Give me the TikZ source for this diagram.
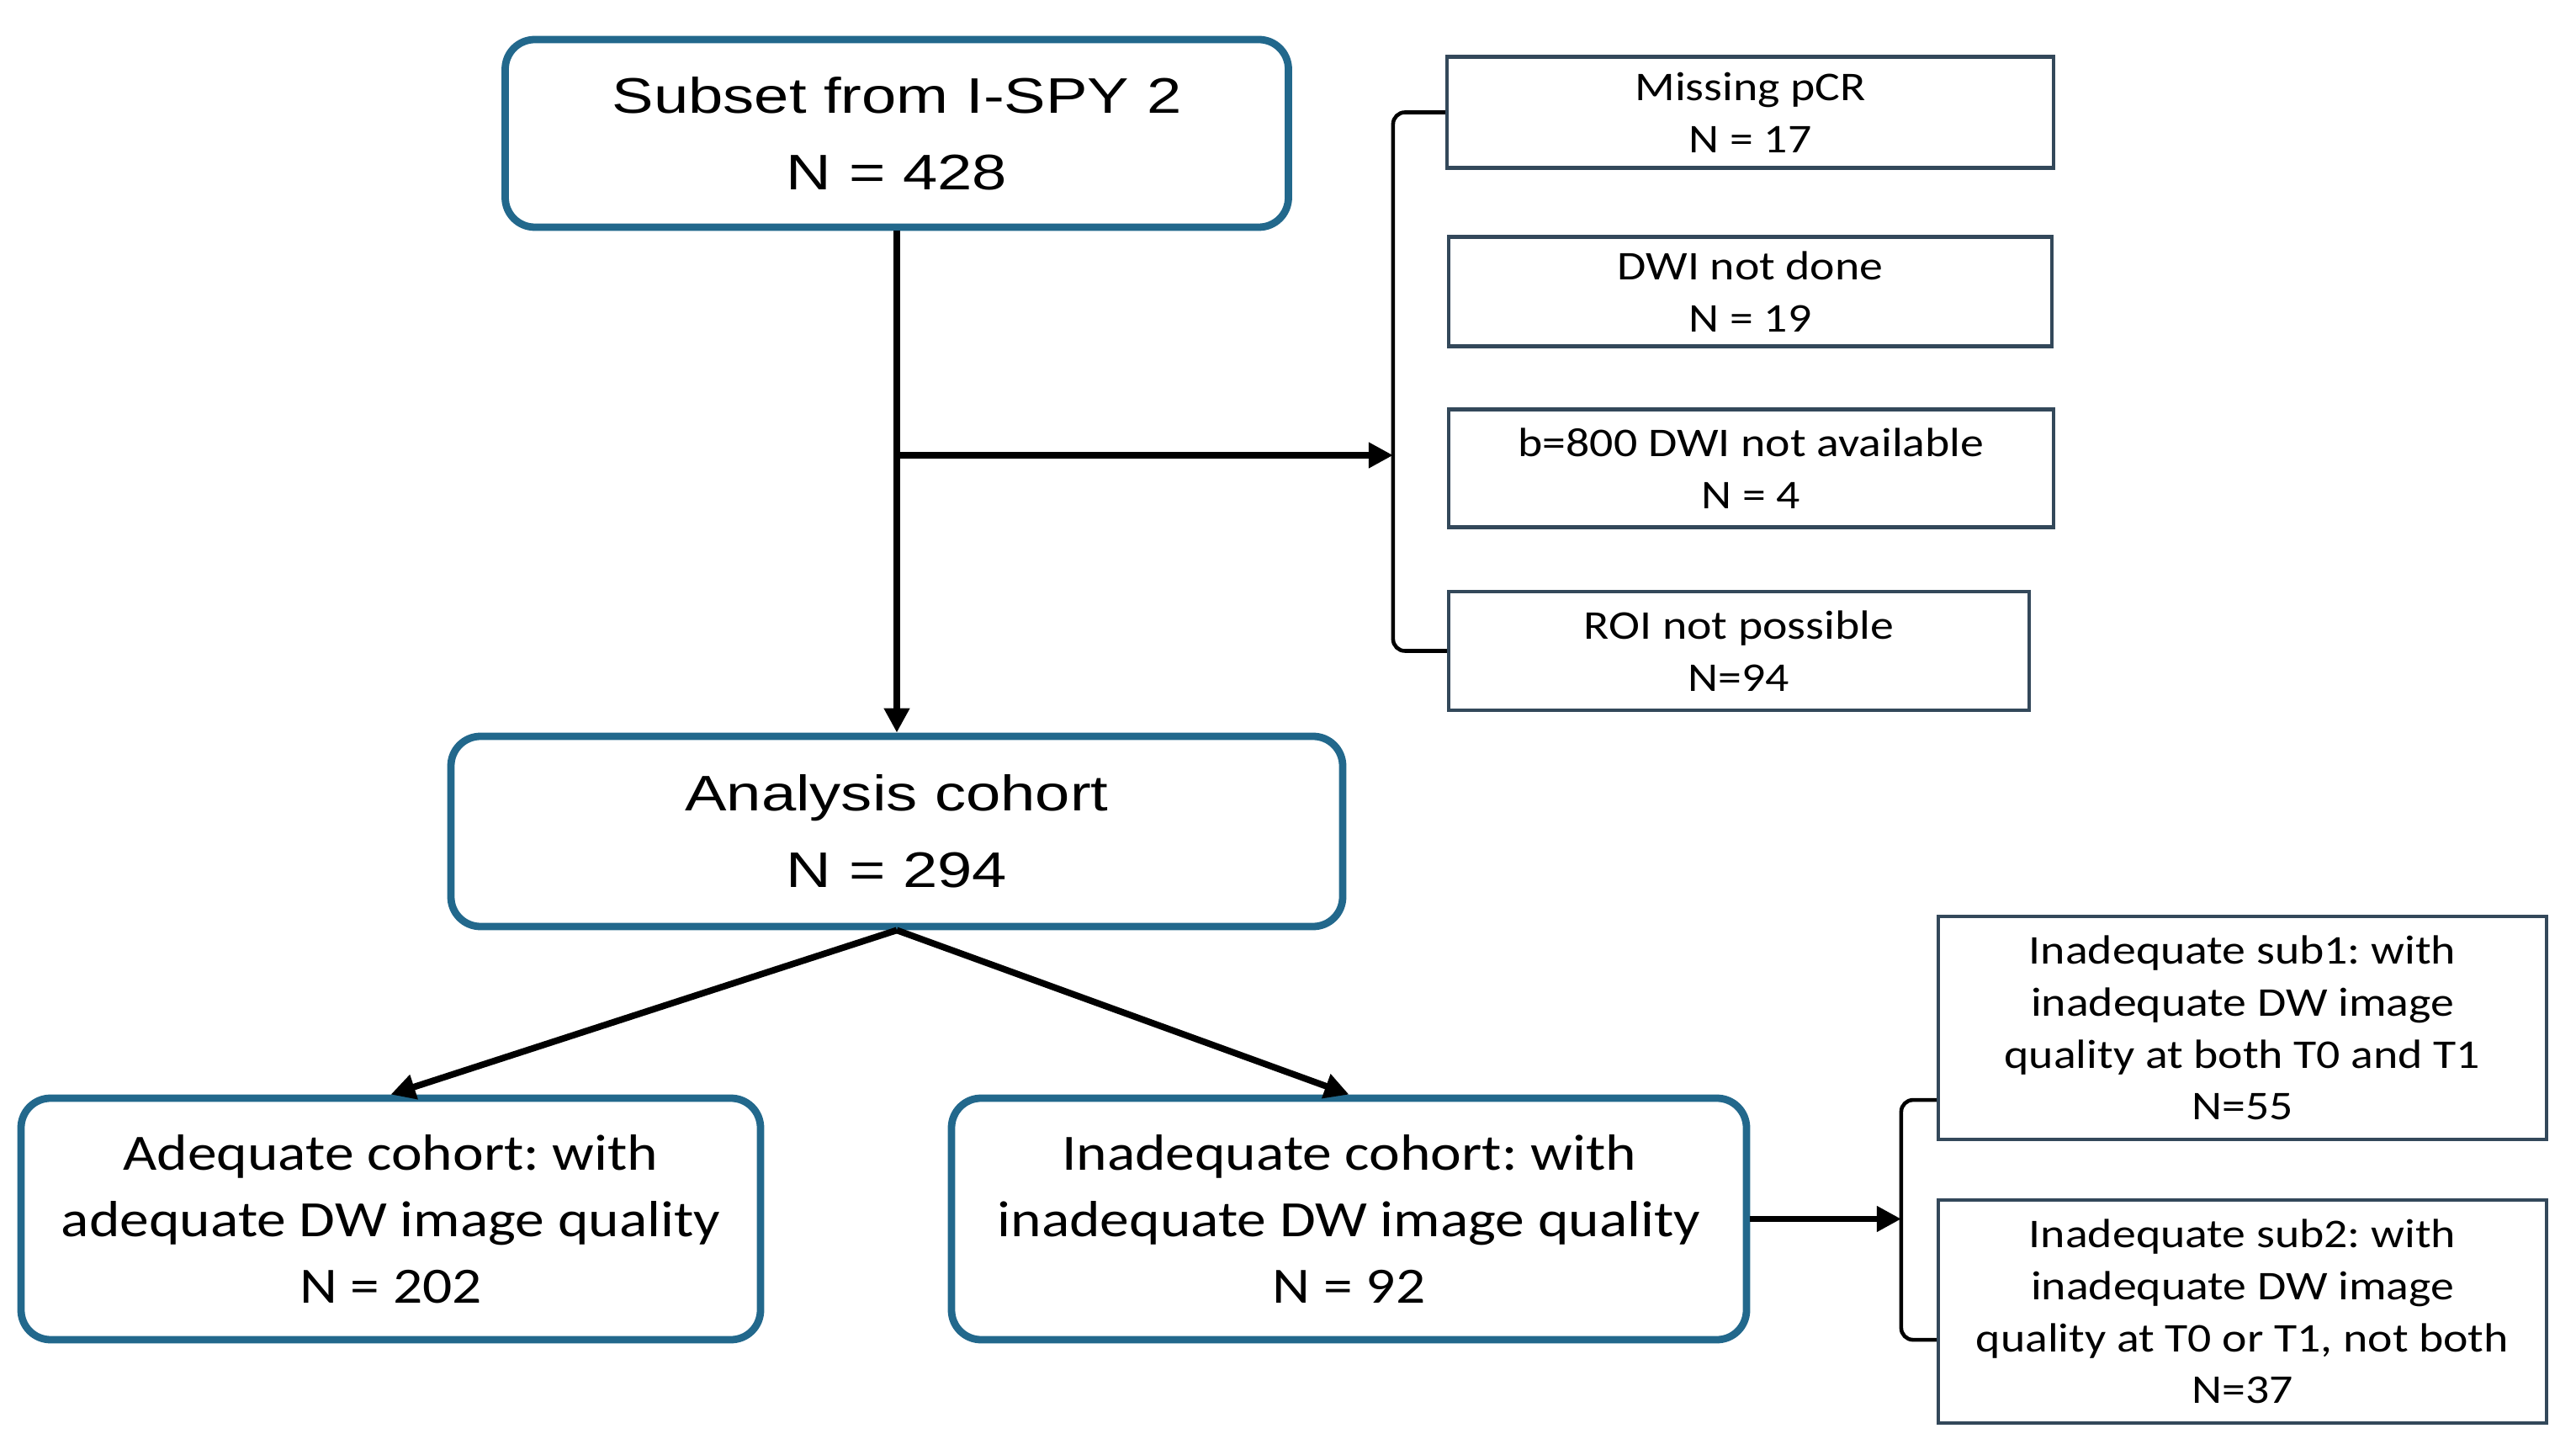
\documentclass[tikz,border=0pt]{standalone}
\usepackage{fontspec}
\newfontfamily\bigfont[FakeStretch=1.25]{Liberation Sans}
\newfontfamily\boxfont[FakeStretch=1.15]{Carlito}
\frenchspacing
\usetikzlibrary{arrows.meta, positioning, calc}
\definecolor{cteal}{HTML}{22688C}
\definecolor{cslate}{HTML}{33485A}
\tikzset{
  every picture/.style={line width=2.2pt},
  cohort/.style={draw=cteal, line width=2.5pt, rounded corners=10pt, align=center, inner sep=0pt},
  exclude/.style={draw=cslate, line width=1.2pt, align=center, inner sep=0pt, font=\boxfont\fontsize{13.8}{17.6}\selectfont},
  arrow/.style={-{Triangle[length=2.9mm, width=2.9mm]}, draw=black, line width=2.2pt},
  bracket/.style={draw=black, line width=1.3pt, rounded corners=4pt},
  bigtext/.style={font=\bigfont\fontsize{16.9}{26}\selectfont},
  midtext/.style={font=\boxfont\fontsize{17.2}{22.4}\selectfont},
}

\begin{document}
\begin{tikzpicture}
  \useasboundingbox (0,0) rectangle (30.62,17.28);
  \node[cohort, bigtext, minimum width=9.31cm, minimum height=2.23cm] (src) at (10.66,15.695) {Subset from I-SPY 2\\N = 428};
  \node[cohort, bigtext, minimum width=10.60cm, minimum height=2.26cm] (ana) at (10.66,7.40) {Analysis cohort\\N = 294};
  \node[cohort, midtext, minimum width=8.79cm, minimum height=2.87cm] (adq) at (4.645,2.795) {Adequate cohort: with\\adequate DW image quality\\N = 202};
  \node[cohort, midtext, minimum width=9.45cm, minimum height=2.87cm] (inq) at (16.035,2.795) {Inadequate cohort: with\\inadequate DW image quality\\N = 92};
  \node[exclude, minimum width=7.21cm, minimum height=1.32cm] (miss) at (20.805,15.945) {Missing pCR\\N = 17};
  \node[exclude, minimum width=7.17cm, minimum height=1.30cm] (dwi) at (20.805,13.815) {DWI not done\\N = 19};
  \node[exclude, minimum width=7.19cm, minimum height=1.40cm] (bval) at (20.815,11.715) {b=800 DWI not available\\N = 4};
  \node[exclude, minimum width=6.90cm, minimum height=1.41cm] (roi) at (20.67,9.545) {ROI not possible\\N=94};
  \node[exclude, minimum width=7.23cm, minimum height=2.65cm] (sub1) at (26.655,5.065) {Inadequate sub1: with\\inadequate DW image\\quality at both T0 and T1\\N=55};
  \node[exclude, minimum width=7.23cm, minimum height=2.65cm] (sub2) at (26.655,1.695) {Inadequate sub2: with\\inadequate DW image\\quality at T0 or T1, not both\\N=37};

  \coordinate (brk1) at ($(miss.west)+(-0.62,0)$);
  \coordinate (split) at (10.66,11.87);
  \draw[arrow] (src) -- (ana);
  \draw[arrow] (split) -- (split -| brk1);
  \draw[bracket] (miss.west) -- (brk1) |- (roi.west);

  \draw[arrow] (ana.south) -- (adq.north);
  \draw[arrow] (ana.south) -- (inq.north);

  \coordinate (brk2) at ($(sub1.west)+(-0.42,0)$);
  \coordinate (hk1) at ([yshift=4.9mm]sub1.south west);
  \coordinate (hk2) at ([yshift=10.1mm]sub2.south west);
  \draw[bracket] (hk1) -- (hk1 -| brk2) |- (hk2);
  \draw[arrow] (inq.east) -- (inq.east -| brk2);
\end{tikzpicture}
\end{document}
